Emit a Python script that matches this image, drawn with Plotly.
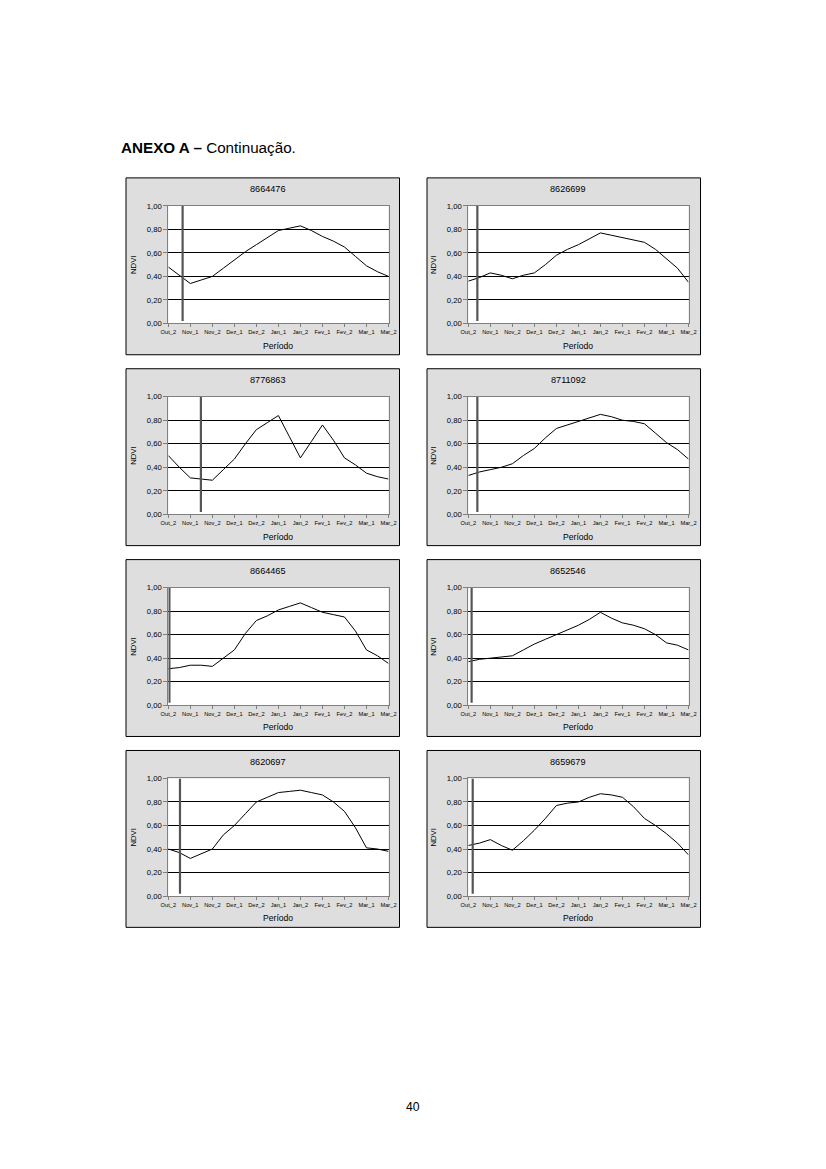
import numpy as np
import plotly.graph_objects as go

# ---------------- data ----------------
tick_labels = ['Out_2', 'Nov_1', 'Nov_2', 'Dez_1', 'Dez_2', 'Jan_1',
               'Jan_2', 'Fev_1', 'Fev_2', 'Mar_1', 'Mar_2']
y_ticks = [0.0, 0.2, 0.4, 0.6, 0.8, 1.0]
y_tick_text = ['0,00', '0,20', '0,40', '0,60', '0,80', '1,00']

titles = ['8664476', '8626699', '8776863', '8711092',
          '8664465', '8652546', '8620697', '8659679']

ndvi_8664476 = [0.48, 0.41, 0.34, 0.37, 0.40, 0.47, 0.54, 0.61, 0.67, 0.73, 0.79,
                0.81, 0.83, 0.79, 0.74, 0.70, 0.65, 0.57, 0.49, 0.44, 0.40]
ndvi_8626699 = [0.36, 0.39, 0.43, 0.41, 0.38, 0.41, 0.43, 0.50, 0.58, 0.63, 0.67,
                0.72, 0.77, 0.75, 0.73, 0.71, 0.69, 0.63, 0.55, 0.47, 0.35]
ndvi_8776863 = [0.50, 0.40, 0.31, 0.30, 0.29, 0.38, 0.47, 0.60, 0.72, 0.78, 0.84,
                0.66, 0.48, 0.62, 0.76, 0.63, 0.48, 0.42, 0.35, 0.32, 0.30]
ndvi_8711092 = [0.33, 0.36, 0.38, 0.40, 0.43, 0.50, 0.56, 0.65, 0.73, 0.76, 0.79,
                0.82, 0.85, 0.83, 0.80, 0.79, 0.77, 0.69, 0.61, 0.55, 0.47]
ndvi_8664465 = [0.31, 0.32, 0.34, 0.34, 0.33, 0.40, 0.47, 0.61, 0.72, 0.76, 0.81,
                0.84, 0.87, 0.83, 0.79, 0.77, 0.75, 0.63, 0.47, 0.42, 0.355]
ndvi_8652546 = [0.37, 0.39, 0.40, 0.41, 0.42, 0.47, 0.52, 0.56, 0.60, 0.64, 0.68,
                0.73, 0.79, 0.74, 0.70, 0.68, 0.65, 0.60, 0.53, 0.51, 0.47]
ndvi_8620697 = [0.40, 0.37, 0.32, 0.36, 0.40, 0.52, 0.60, 0.70, 0.80, 0.84, 0.88,
                0.89, 0.90, 0.88, 0.86, 0.80, 0.72, 0.58, 0.41, 0.40, 0.38]
ndvi_8659679 = [0.43, 0.45, 0.48, 0.43, 0.39, 0.47, 0.56, 0.66, 0.77, 0.79, 0.80,
                0.84, 0.87, 0.86, 0.84, 0.76, 0.66, 0.60, 0.53, 0.45, 0.35]

series = [ndvi_8664476, ndvi_8626699, ndvi_8776863, ndvi_8711092,
          ndvi_8664465, ndvi_8652546, ndvi_8620697, ndvi_8659679]

# position of the vertical reference bar (in tick-label units from Out_2)
bar_pos = [0.65, 0.41, 1.48, 0.41, 0.05, 0.15, 0.53, 0.20]
bar_range = [0.02, 1.0]

# ---------------- layout helpers ----------------
W, H = 826, 1169
# calibration of the photographed page (content appears inset/scaled)
OX, SX = 8.0, 0.9806
OY, SY = 3.0, 0.993
FS = 1 / 0.985  # font compensation

def px(x):
    return ((x - OX) / SX) / W
def py(y):
    return 1 - ((y - OY) / SY) / H

col_plot = [(168.3, 388.5), (468.3, 688.5)]
col_box = [(126, 399.5), (427, 700.5)]
col_title_x = [267.5, 568.0]
col_ytitle_x = [133.3, 433.3]
row_step = 191

fig = go.Figure()
shapes = []
annotations = []
layout_axes = {}

font_family = "Liberation Sans, Arial, sans-serif"

for i, (vals, title) in enumerate(zip(series, titles)):
    r, c = divmod(i, 2)
    n = i + 1
    xa = 'x' if n == 1 else f'x{n}'
    ya = 'y' if n == 1 else f'y{n}'
    xkey = 'xaxis' if n == 1 else f'xaxis{n}'
    ykey = 'yaxis' if n == 1 else f'yaxis{n}'

    top = 205 + row_step * r
    bot = 322.7 + row_step * r
    x0, x1 = col_plot[c]

    # gray chart box and white plot area
    bx0, bx1 = col_box[c]
    shapes.append(dict(type='rect', xref='paper', yref='paper', layer='below',
                       x0=px(bx0), x1=px(bx1), y0=py(354 + row_step * r), y1=py(177 + row_step * r),
                       fillcolor='#dedede', line=dict(color='black', width=1)))
    shapes.append(dict(type='rect', xref=f'{xa} domain', yref=f'{ya} domain', layer='below',
                       x0=0, x1=1, y0=0, y1=1, fillcolor='white', line=dict(width=0)))

    xs = np.arange(len(vals)) / 2.0
    fig.add_trace(go.Scatter(x=xs, y=vals, mode='lines', xaxis=xa, yaxis=ya,
                             line=dict(color='black', width=1), showlegend=False,
                             hoverinfo='skip'))
    fig.add_trace(go.Scatter(x=[bar_pos[i], bar_pos[i]], y=bar_range, mode='lines',
                             xaxis=xa, yaxis=ya, line=dict(color='#555555', width=2.2),
                             showlegend=False, hoverinfo='skip'))

    layout_axes[xkey] = dict(domain=[px(x0), px(x1)], anchor=ya, range=[0, 10],
                             tickvals=list(range(len(tick_labels))), ticktext=tick_labels,
                             showgrid=False, zeroline=False, showline=True, mirror=True,
                             linecolor='#808080', linewidth=1, ticks='outside', ticklen=3,
                             tickcolor='#808080', tickfont=dict(size=5.6 * FS, color='black',
                                                                family=font_family),
                             tickangle=0, fixedrange=True)
    layout_axes[ykey] = dict(domain=[py(bot), py(top)], anchor=xa, range=[0, 1],
                             tickvals=y_ticks, ticktext=y_tick_text,
                             showgrid=True, gridcolor='black', gridwidth=1, zeroline=False,
                             showline=True, mirror=True, linecolor='#808080', linewidth=1,
                             ticks='outside', ticklen=4, tickcolor='#808080',
                             tickfont=dict(size=7.6 * FS, color='black', family=font_family),
                             fixedrange=True)

    annotations.append(dict(text=title, xref='paper', yref='paper', showarrow=False,
                            x=px(col_title_x[c]), y=py(188.3 + row_step * r),
                            xanchor='center', yanchor='middle',
                            font=dict(size=9 * FS, color='black', family=font_family)))
    annotations.append(dict(text='NDVI', xref='paper', yref='paper', showarrow=False,
                            x=px(col_ytitle_x[c]), y=py((top + bot) / 2),
                            xanchor='center', yanchor='middle', textangle=-90,
                            font=dict(size=7.6 * FS, color='black', family=font_family)))
    annotations.append(dict(text='Período', xref='paper', yref='paper', showarrow=False,
                            x=px((x0 + x1) / 2), y=py(345 + row_step * r),
                            xanchor='center', yanchor='middle',
                            font=dict(size=8.5 * FS, color='black', family=font_family)))

annotations.append(dict(text='<b>ANEXO A –</b> Continuação.', xref='paper', yref='paper',
                        showarrow=False, x=px(118.5), y=py(146.5), xanchor='left',
                        yanchor='middle', font=dict(size=15 * FS, color='black', family=font_family)))
annotations.append(dict(text='40', xref='paper', yref='paper', showarrow=False,
                        x=px(413), y=py(1107), xanchor='center', yanchor='middle',
                        font=dict(size=12 * FS, color='black', family=font_family)))

fig.update_layout(width=W, height=H, margin=dict(l=0, r=0, t=0, b=0),
                  paper_bgcolor='white', plot_bgcolor='rgba(0,0,0,0)',
                  shapes=shapes, annotations=annotations, showlegend=False,
                  font=dict(family=font_family), **layout_axes)

fig.write_html("out.html", config={'displayModeBar': False},
               post_script="document.body.style.margin='0';"
                           "document.body.style.padding='0';"
                           "document.body.style.overflow='hidden';")
